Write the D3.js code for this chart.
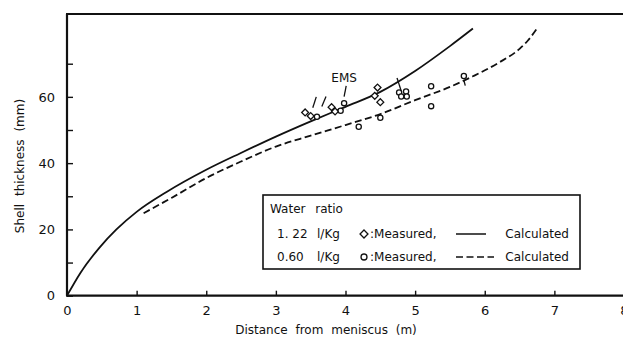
<!DOCTYPE html>
<html>
<head>
<meta charset="utf-8">
<script src="https://cdn.jsdelivr.net/npm/d3@7/dist/d3.min.js"></script>
<style>
  html, body { margin: 0; padding: 0; background: #fff; }
  svg text { font-family: "DejaVu Sans", sans-serif; fill: #111; }
</style>
</head>
<body>
<svg id="chart" width="623" height="343"></svg>
<script>
// Calculated shell thickness (mm) vs distance from meniscus (m)
const calc122 = [
  [0, 0], [0.19, 6.8], [0.47, 14.6], [0.71, 20.0], [1.0, 25.3], [1.43, 31.3],
  [2.0, 38.0], [2.49, 43.0], [3.0, 48.0], [3.5, 52.6], [4.0, 57.0],
  [4.5, 61.5], [5.0, 67.8], [5.5, 75.3], [5.83, 80.6]
];
const calc060 = [
  [1.1, 24.9], [1.5, 29.5], [2.0, 35.5], [2.5, 40.5], [3.0, 45.0], [3.5, 48.3],
  [4.0, 51.5], [4.5, 54.8], [5.0, 59.0], [5.5, 63.0], [5.83, 66.2], [6.2, 70.3],
  [6.5, 74.5], [6.62, 77.0], [6.74, 80.3]
];
// Measured points
const diamondPts = [
  [3.42, 55.3], [3.50, 54.2], [3.80, 56.9], [3.85, 55.6],
  [4.46, 62.8], [4.42, 60.3], [4.50, 58.4]
];
const circlePts = [
  [3.59, 54.0], [3.93, 55.8], [3.98, 58.1],
  [4.77, 61.3], [4.87, 61.6], [4.80, 60.1], [4.88, 60.1],
  [4.19, 51.0], [4.50, 53.7], [5.23, 63.2], [5.23, 57.2], [5.70, 66.3]
];
// Pointer strokes near the measured points
const pointerLines = [
  [[3.58, 60.0], [3.53, 56.7]],
  [[3.72, 60.1], [3.66, 57.1]],
  [[4.01, 63.3], [3.98, 60.1]],
  [[4.74, 65.7], [4.80, 61.8]],
  [[5.70, 65.0], [5.72, 63.4]]
];
const emsLabel = { text: "EMS", x: 3.98, y: 64.6 };

const xTicks = [0, 1, 2, 3, 4, 5, 6, 7, 8];
const yMajor = [0, 20, 40, 60];
const yMinor = [10, 30, 50, 70];

const legendRows = [
  { ratio: "1. 22", unit: "l/Kg", symbol: "diamond", dash: null },
  { ratio: "0.60", unit: "l/Kg", symbol: "circle", dash: "7,3.5" }
];

const svg = d3.select("#chart");
const x = d3.scaleLinear().domain([0, 8]).range([67, 624]);
const y = d3.scaleLinear().domain([0, 85]).range([295.7, 14]);

const ink = "#111";

// Frame: left axis, bottom axis, top border
svg.append("line").attr("x1", x(0)).attr("x2", x(0)).attr("y1", y(85)).attr("y2", y(0))
  .attr("stroke", ink).attr("stroke-width", 2.2);
svg.append("line").attr("x1", x(0) - 1).attr("x2", 623).attr("y1", y(0)).attr("y2", y(0))
  .attr("stroke", ink).attr("stroke-width", 2.2);
svg.append("line").attr("x1", x(0) - 1).attr("x2", 623).attr("y1", y(85)).attr("y2", y(85))
  .attr("stroke", ink).attr("stroke-width", 1.8);

// Bottom axis (ticks pointing inward)
const xAxis = d3.axisBottom(x).tickValues(xTicks).tickSize(-5).tickPadding(10)
  .tickFormat(d3.format("d"));
const gx = svg.append("g").attr("transform", `translate(0,${y(0)})`).call(xAxis);
gx.select(".domain").remove();
gx.selectAll(".tick line").attr("stroke", ink).attr("stroke-width", 1.4);
gx.selectAll(".tick text").attr("font-size", 13).attr("fill", ink);

// Left axis: labeled major ticks and unlabeled minor ticks, inward
const yAxis = d3.axisLeft(y).tickValues(yMajor).tickSize(-6).tickPadding(12)
  .tickFormat(d3.format("d"));
const gy = svg.append("g").attr("transform", `translate(${x(0)},0)`).call(yAxis);
gy.select(".domain").remove();
gy.selectAll(".tick line").attr("stroke", ink).attr("stroke-width", 1.4);
gy.selectAll(".tick text").attr("font-size", 13).attr("fill", ink);

const gyMinor = svg.append("g").attr("transform", `translate(${x(0)},0)`)
  .call(d3.axisLeft(y).tickValues(yMinor).tickSize(-6).tickFormat(""));
gyMinor.select(".domain").remove();
gyMinor.selectAll(".tick line").attr("stroke", ink).attr("stroke-width", 1.4);

// Axis titles
svg.append("text").attr("x", 326).attr("y", 334).attr("text-anchor", "middle")
  .attr("font-size", 12).attr("word-spacing", 4).text("Distance from meniscus (m)");
svg.append("text").attr("transform", "translate(24,166) rotate(-90)")
  .attr("text-anchor", "middle").attr("font-size", 12).attr("word-spacing", 4)
  .text("Shell thickness (mm)");

// Calculated curves
const line = d3.line().x(d => x(d[0])).y(d => y(d[1])).curve(d3.curveMonotoneX);
svg.append("path").attr("d", line(calc122)).attr("fill", "none")
  .attr("stroke", ink).attr("stroke-width", 1.8);
svg.append("path").attr("d", line(calc060)).attr("fill", "none")
  .attr("stroke", ink).attr("stroke-width", 1.8).attr("stroke-dasharray", "7,3.5");

// Pointer strokes
svg.selectAll("line.ptr").data(pointerLines).join("line").attr("class", "ptr")
  .attr("x1", d => x(d[0][0])).attr("y1", d => y(d[0][1]))
  .attr("x2", d => x(d[1][0])).attr("y2", d => y(d[1][1]))
  .attr("stroke", ink).attr("stroke-width", 1.3);

svg.append("text").attr("x", x(emsLabel.x)).attr("y", y(emsLabel.y))
  .attr("text-anchor", "middle").attr("font-size", 12).text(emsLabel.text);

// Measured markers
const diamondPath = d3.symbol().type(d3.symbolDiamond2).size(30);
svg.selectAll("path.dia").data(diamondPts).join("path").attr("class", "dia")
  .attr("d", diamondPath)
  .attr("transform", d => `translate(${x(d[0])},${y(d[1])})`)
  .attr("fill", "#fff").attr("stroke", ink).attr("stroke-width", 1.3);
svg.selectAll("circle.cir").data(circlePts).join("circle").attr("class", "cir")
  .attr("cx", d => x(d[0])).attr("cy", d => y(d[1])).attr("r", 2.6)
  .attr("fill", "#fff").attr("stroke", ink).attr("stroke-width", 1.3);

// Legend
const lg = svg.append("g");
lg.append("rect").attr("x", 263).attr("y", 195).attr("width", 317).attr("height", 74)
  .attr("fill", "#fff").attr("stroke", ink).attr("stroke-width", 1.6);
lg.append("text").attr("x", 270).attr("y", 213).attr("font-size", 12)
  .attr("word-spacing", 6).text("Water ratio");
legendRows.forEach((r, i) => {
  const by = 238 + i * 23;
  lg.append("text").attr("x", 277).attr("y", by).attr("font-size", 12).text(r.ratio);
  lg.append("text").attr("x", 317).attr("y", by).attr("font-size", 12).text(r.unit);
  if (r.symbol === "diamond") {
    lg.append("path").attr("d", d3.symbol().type(d3.symbolDiamond2).size(40)())
      .attr("transform", `translate(364,${by - 4})`)
      .attr("fill", "none").attr("stroke", ink).attr("stroke-width", 1.3);
  } else {
    lg.append("circle").attr("cx", 364).attr("cy", by - 4).attr("r", 3)
      .attr("fill", "none").attr("stroke", ink).attr("stroke-width", 1.3);
  }
  lg.append("text").attr("x", 370).attr("y", by).attr("font-size", 12).text(":Measured,");
  const x1 = 456, x2 = r.dash ? 494 : 486;
  lg.append("line").attr("x1", x1).attr("x2", x2).attr("y1", by - 4).attr("y2", by - 4)
    .attr("stroke", ink).attr("stroke-width", 1.5)
    .attr("stroke-dasharray", r.dash);
  lg.append("text").attr("x", 569).attr("y", by).attr("text-anchor", "end")
    .attr("font-size", 12).text("Calculated");
});
</script>
</body>
</html>
